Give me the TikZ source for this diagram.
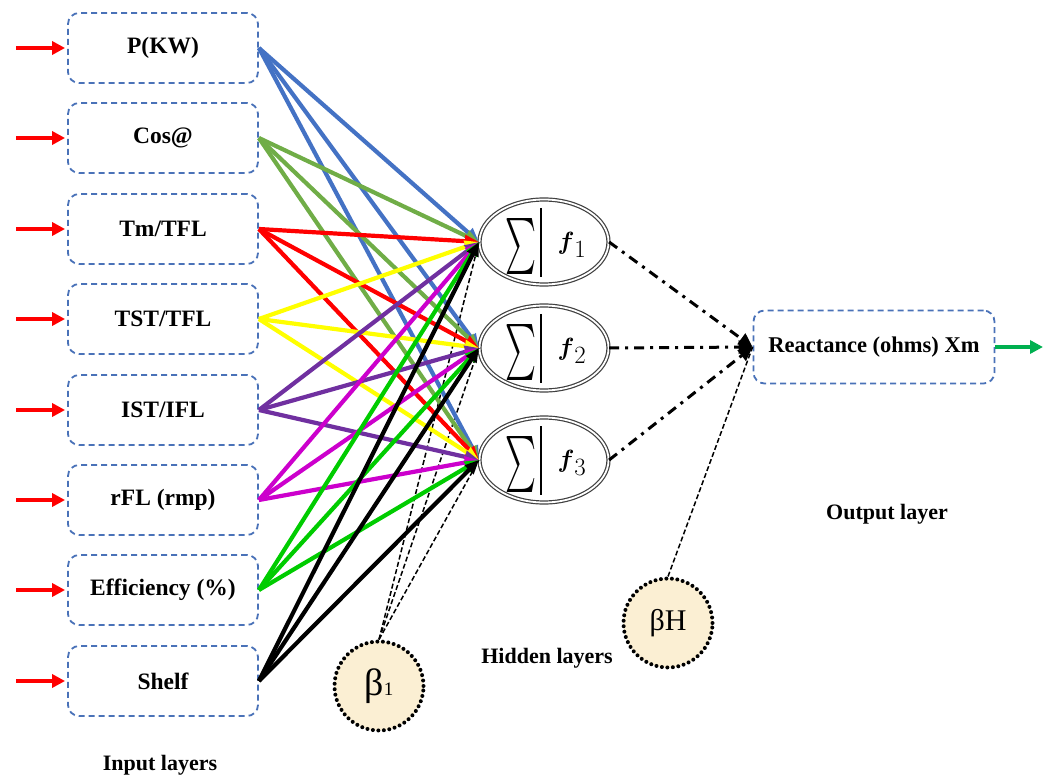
\documentclass[tikz,border=0pt]{standalone}
\usepackage{amsmath}
\usepackage{graphicx}
\usepackage{fontspec}
\setmainfont{Liberation Serif}
\usetikzlibrary{arrows.meta,shapes.geometric}
\definecolor{boxblue}{HTML}{4A72B8}
\definecolor{cblue}{HTML}{4472C4}
\definecolor{cgreen}{HTML}{70AD47}
\definecolor{cred}{HTML}{FF0000}
\definecolor{cyellow}{HTML}{FFFF00}
\definecolor{cpurple}{HTML}{7030A0}
\definecolor{cmagenta}{HTML}{CC00CC}
\definecolor{clime}{HTML}{00CC00}
\definecolor{cblack}{HTML}{000000}
\definecolor{beige}{HTML}{FBEFD3}
\definecolor{outgreen}{HTML}{00B050}
\begin{document}
\begin{tikzpicture}[x=1pt,y=-1pt,
  inbox/.style={draw=boxblue, dash pattern=on 6pt off 4pt, line width=1.8pt, rounded corners=11pt,
    minimum width=190pt, minimum height=70pt, inner sep=0pt, font=\fontsize{23.5}{26}\selectfont\bfseries},
  hid/.style={ellipse, draw=black!75, double, double distance=1.8pt, line width=1.2pt,
    minimum width=129pt, minimum height=85pt, inner sep=0pt},
  conn/.style={line width=4.2pt, -{Triangle[length=14pt,width=12pt]}},
  inarrow/.style={cred, line width=4.4pt, -{Triangle[length=13pt,width=13pt]}},
  dashdot/.style={black, line width=3pt, dash pattern=on 10pt off 6pt on 3pt off 6pt, -{Triangle[length=14pt,width=13pt]}},
  thindash/.style={black, line width=1.5pt, dash pattern=on 5pt off 2.5pt},
  bias/.style={circle, fill=beige, draw=black, line width=4pt, dash pattern=on 0pt off 5.5pt, line cap=round,
    minimum size=89pt, inner sep=0pt},
  caption/.style={font=\fontsize{22}{26}\selectfont\bfseries},
  symb/.style={font=\fontsize{36}{36}\selectfont, inner sep=0pt}
]
\useasboundingbox (0,0) rectangle (1053,778);

% input boxes
\node[inbox] (p) at (163,48) {P(KW)};
\node[inbox] (c) at (163,138) {Cos@};
\node[inbox] (t) at (163,229) {Tm/TFL};
\node[inbox] (s) at (163,319) {TST/TFL};
\node[inbox] (i) at (163,410) {IST/IFL};
\node[inbox] (r) at (163,500) {rFL (rmp)};
\node[inbox] (e) at (163,590) {Efficiency (\%)};
\node[inbox] (sh) at (163,681) {Shelf};

% input arrows
\foreach \n in {p,c,t,s,i,r,e,sh}{
  \coordinate (a\n) at ([xshift=-51pt]\n.west);
  \draw[inarrow, shorten >=2pt] (a\n) -- (\n.west);
}

% hidden nodes
\node[hid] (h1) at (544,242) {};
\node[hid] (h2) at (544,348) {};
\node[hid] (h3) at (544,460) {};
\foreach \h in {h1,h2,h3}{
  \node[symb] (\h s) at ([xshift=-23pt,yshift=-4pt]\h.center) {\resizebox{31pt}{42pt}{$\sum$}};
  \draw[line width=2.4pt] ([shift={(-3,-34)}]\h.center) -- ([shift={(-3,35)}]\h.center);
}
\node[symb] (h1f) at ([xshift=28pt,yshift=-3pt]h1.center) {$\boldsymbol{f}_1$};
\node[symb] (h2f) at ([xshift=28pt,yshift=-3pt]h2.center) {$\boldsymbol{f}_2$};
\node[symb] (h3f) at ([xshift=28pt,yshift=-3pt]h3.center) {$\boldsymbol{f}_3$};

% output node
\node[inbox, minimum width=241pt, minimum height=73pt, font=\fontsize{22.5}{26}\selectfont\bfseries] (o) at (874,347) {Reactance (ohms) Xm};
\coordinate (oend) at (1043,347);
\draw[outgreen, line width=4.4pt, -{Triangle[length=13pt,width=13pt]}] (o.east) -- (oend);

% bias nodes
\node[bias] (b1) at (379,686) {\fontsize{38}{38}\selectfont β\fontsize{19}{19}\selectfont 1};
\node[bias] (bh) at (668,623) {\fontsize{30}{30}\selectfont βH};

\foreach \h in {h1,h2,h3}{
  \draw[thindash] (b1.north) -- (\h.west);
}
\draw[thindash] (bh.north) -- (o.west);

% connections
\foreach \n/\c in {p/cblue,c/cgreen,t/cred,s/cyellow,i/cpurple,r/cmagenta,e/clime,sh/cblack}{
  \foreach \h in {h1,h2,h3}{
    \draw[conn,\c] (\n.east) -- (\h.west);
  }
}

% hidden to output
\foreach \h in {h1,h2,h3}{
  \draw[dashdot] (\h.east) -- (o.west);
}

% captions
\node[caption] (lin) at (160,765) {Input layers};
\node[caption] (lhid) at (547,658) {Hidden layers};
\node[caption] (lout) at (887,514) {Output layer};
\end{tikzpicture}
\end{document}
